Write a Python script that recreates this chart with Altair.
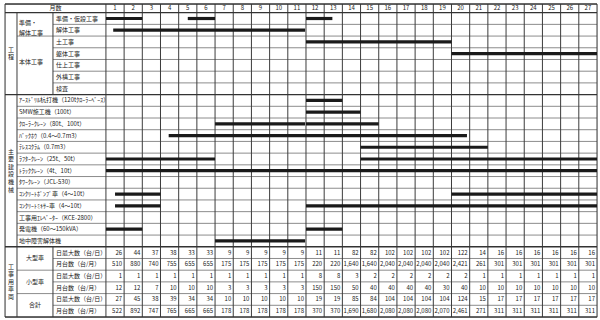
import altair as alt
import pandas as pd

# ---------------- data ----------------
months = list(range(1, 28))

process_items = ["準備・仮設工事", "解体工事", "土工事", "躯体工事", "仕上工事", "外構工事", "検査"]
process_groups = ["準備・\n解体工事", "本体工事"]
process_group_span = [2, 5]

equipment_items = [
    "ｱｰｽﾄﾞﾘﾙ杭打機（120tｸﾛｰﾗｰﾍﾞｰｽ）",
    "SMW施工機（100t）",
    "ｸﾛｰﾗｰｸﾚｰﾝ（80t、100t）",
    "ﾊﾞｯｸﾎｳ（0.4～0.7m3）",
    "ﾃﾚｽｺｸﾗﾑ（0.7m3）",
    "ﾗﾌﾀｰｸﾚｰﾝ（25t、50t）",
    "ﾄﾗｯｸｸﾚｰﾝ（4t、10t）",
    "ﾀﾜｰｸﾚｰﾝ（JCL-530）",
    "ｺﾝｸﾘｰﾄﾎﾟﾝﾌﾟ車（4～10t）",
    "ｺﾝｸﾘｰﾄﾐｷｻｰ車（4～10t）",
    "工事用ｴﾚﾍﾞｰﾀｰ（KCE-2800）",
    "発電機（60～150kVA）",
    "地中障害解体機",
]

section_titles = ["工程", "主要建設機械", "工事用車両"]
vehicle_groups = ["大型車", "小型車", "合計"]
vehicle_metrics = ["日最大数（台/日）", "月台数（台/月）"]

large_daily = [26, 44, 37, 38, 33, 33, 9, 9, 9, 9, 9, 11, 11, 82, 82, 102, 102, 102, 102, 122, 14, 16, 16, 16, 16, 16, 16]
large_monthly = [510, 880, 740, 755, 655, 655, 175, 175, 175, 175, 175, 220, 220, 1640, 1640, 2040, 2040, 2040, 2040, 2421, 261, 301, 301, 301, 301, 301, 301]
small_daily = [1, 1, 1, 1, 1, 1, 1, 1, 1, 1, 1, 8, 8, 3, 2, 2, 2, 2, 2, 2, 1, 1, 1, 1, 1, 1, 1]
small_monthly = [12, 12, 7, 10, 10, 10, 3, 3, 3, 3, 3, 150, 150, 50, 40, 40, 40, 40, 30, 40, 10, 10, 10, 10, 10, 10, 10]
total_daily = [27, 45, 38, 39, 34, 34, 10, 10, 10, 10, 10, 19, 19, 85, 84, 104, 104, 104, 104, 124, 15, 17, 17, 17, 17, 17, 17]
total_monthly = [522, 892, 747, 765, 665, 665, 178, 178, 178, 178, 178, 370, 370, 1690, 1680, 2080, 2080, 2080, 2070, 2461, 271, 311, 311, 311, 311, 311, 311]

# schedule bars: (item, start month offset, end month offset)
process_bars = [
    ("準備・仮設工事", 0, 2), ("準備・仮設工事", 4.5, 6), ("準備・仮設工事", 11, 12.45),
    ("解体工事", 0.4, 10.95),
    ("土工事", 11, 19),
    ("躯体工事", 19, 27),
]
equipment_bars = [
    (0, 11, 13),
    (1, 11, 14),
    (2, 6, 10.95), (2, 11, 15),
    (3, 3.45, 19.85),
    (4, 14, 21),
    (5, 0, 6), (5, 14, 27),
    (6, 0, 27),
    (8, 0.5, 3), (8, 19, 27),
    (9, 0.5, 3), (9, 11, 27),
    (11, 0, 2), (11, 11, 13),
    (12, 6, 10.95),
]

# ---------------- layout ----------------
MW = 18.2           # px per month column
LW = 101            # px of label area
x0 = -LW / MW
xAB = x0 + 12 / MW
xBC = x0 + 48 / MW
HDR = -0.74
NROW = 26
ROWPX = 313 / (NROW - HDR)
FONT = "Noto Sans CJK JP"

P0 = 0
E0 = len(process_items)
V0 = E0 + len(equipment_items)

xs = alt.Scale(domain=[x0, 27], nice=False, zero=False)
ys = alt.Scale(domain=[HDR, NROW], reverse=True, nice=False, zero=False)
X = lambda f="x": alt.X(f"{f}:Q", scale=xs, axis=None)
Y = lambda f="y": alt.Y(f"{f}:Q", scale=ys, axis=None)

# horizontal lines
h = [(x0, HDR, "d"), (x0, 0, "d"), (x0, E0, "d"), (x0, V0, "d"), (x0, NROW, "d")]
h += [(xBC, 1, "l"), (xAB, 2, "l")] + [(xBC, r, "l") for r in range(3, E0)]
h += [(xAB, r, "l") for r in range(E0 + 1, V0)]
for i in range(1, 6):
    h.append((xBC if i % 2 == 1 else xAB, V0 + i, "l"))
hdf = pd.DataFrame([{"x": a, "x2": 27, "y": b, "k": k} for a, b, k in h])

# vertical lines
v = [{"x": x0, "y": HDR, "y2": NROW}, {"x": xAB, "y": 0, "y2": NROW},
     {"x": xBC, "y": 0, "y2": E0}, {"x": xBC, "y": V0, "y2": NROW}]
v += [{"x": m, "y": HDR, "y2": NROW} for m in range(0, 28)]
vdf = pd.DataFrame(v)

# bars
bars = []
for item, s, e in process_bars:
    r = P0 + process_items.index(item)
    bars.append({"x": s, "x2": e, "y": r + 0.5})
for idx, s, e in equipment_bars:
    bars.append({"x": s, "x2": e, "y": E0 + idx + 0.5})
bdf = pd.DataFrame(bars)

hlines = alt.Chart(hdf[hdf.k == "l"]).mark_rule(color="#8c8c8c", strokeWidth=1).encode(x=X(), x2="x2", y=Y())
hmajor = alt.Chart(hdf[hdf.k == "d"]).mark_rule(color="#333", strokeWidth=1.3).encode(x=X(), x2="x2", y=Y())
vlines = alt.Chart(vdf).mark_rule(color="#3c3c3c", strokeWidth=1).encode(x=X(), y=Y(), y2="y2")
barl = alt.Chart(bdf).mark_rule(color="#1a1a1a", strokeWidth=3.2).encode(x=X(), x2="x2", y=Y())

# texts
def txt(df, align="left", size=6, lh=None):
    kw = dict(font=FONT, fontSize=size, align=align, baseline="middle", color="#222")
    if lh:
        kw.update(lineBreak="\n", lineHeight=lh)
    return alt.Chart(df).mark_text(**kw).encode(x=X(), y=Y(), text="t:N")

hdr = pd.DataFrame([{"x": m - 0.5, "y": HDR / 2, "t": str(m)} for m in months] +
                   [{"x": x0 / 2, "y": HDR / 2, "t": "月数"}])

left_c = [{"x": xBC + 3 / MW, "y": P0 + i + 0.5, "t": s} for i, s in enumerate(process_items)]
left_c += [{"x": xAB + 2 / MW, "y": E0 + i + 0.5, "t": s} for i, s in enumerate(equipment_items)]
for g in range(3):
    for j, s in enumerate(vehicle_metrics):
        left_c.append({"x": xBC + 3 / MW, "y": V0 + 2 * g + j + 0.5, "t": s})
leftdf = pd.DataFrame(left_c)

grp = []
r = P0
for s, n in zip(process_groups, process_group_span):
    grp.append({"x": xAB + 2 / MW, "y": r + n / 2 - (0.15 if n == 2 else 0.25), "t": s})
    r += n
grpdf = pd.DataFrame(grp)

vg = pd.DataFrame([{"x": (xAB + xBC) / 2, "y": V0 + 2 * g + 1, "t": s} for g, s in enumerate(vehicle_groups)])

# vertical section titles, one character per line
sec = []
step = 7.6 / ROWPX
for title, (a, b) in zip(section_titles, [(P0, E0), (E0, V0), (V0, NROW)]):
    c = (a + b) / 2
    n = len(title)
    for k, ch in enumerate(title):
        sec.append({"x": (x0 + xAB) / 2, "y": c + (k - (n - 1) / 2) * step, "t": ch})
secdf = pd.DataFrame(sec)

series = [large_daily, large_monthly, small_daily, small_monthly, total_daily, total_monthly]
nums = []
for i, vals in enumerate(series):
    for m, val in zip(months, vals):
        nums.append({"x": m - 2 / MW, "y": V0 + i + 0.5, "v": val})
numdf = pd.DataFrame(nums)
numl = alt.Chart(numdf).mark_text(font=FONT, fontSize=6, align="right", baseline="middle", color="#222").encode(
    x=X(), y=Y(), text=alt.Text("v:Q", format=","))

chart = alt.layer(
    hlines, vlines, hmajor, barl,
    txt(hdr, align="center"),
    txt(leftdf),
    txt(grpdf, lh=10),
    txt(vg, align="center"),
    txt(secdf, align="center", size=6),
    numl,
).properties(
    width=592, height=313,
    autosize=alt.AutoSizeParams(type="none"),
    padding={"left": 5, "top": 4, "right": 3, "bottom": 3},
).configure_view(stroke=None).configure(background="white")

chart.save("out.html", embed_options={"renderer": "svg", "actions": False})
